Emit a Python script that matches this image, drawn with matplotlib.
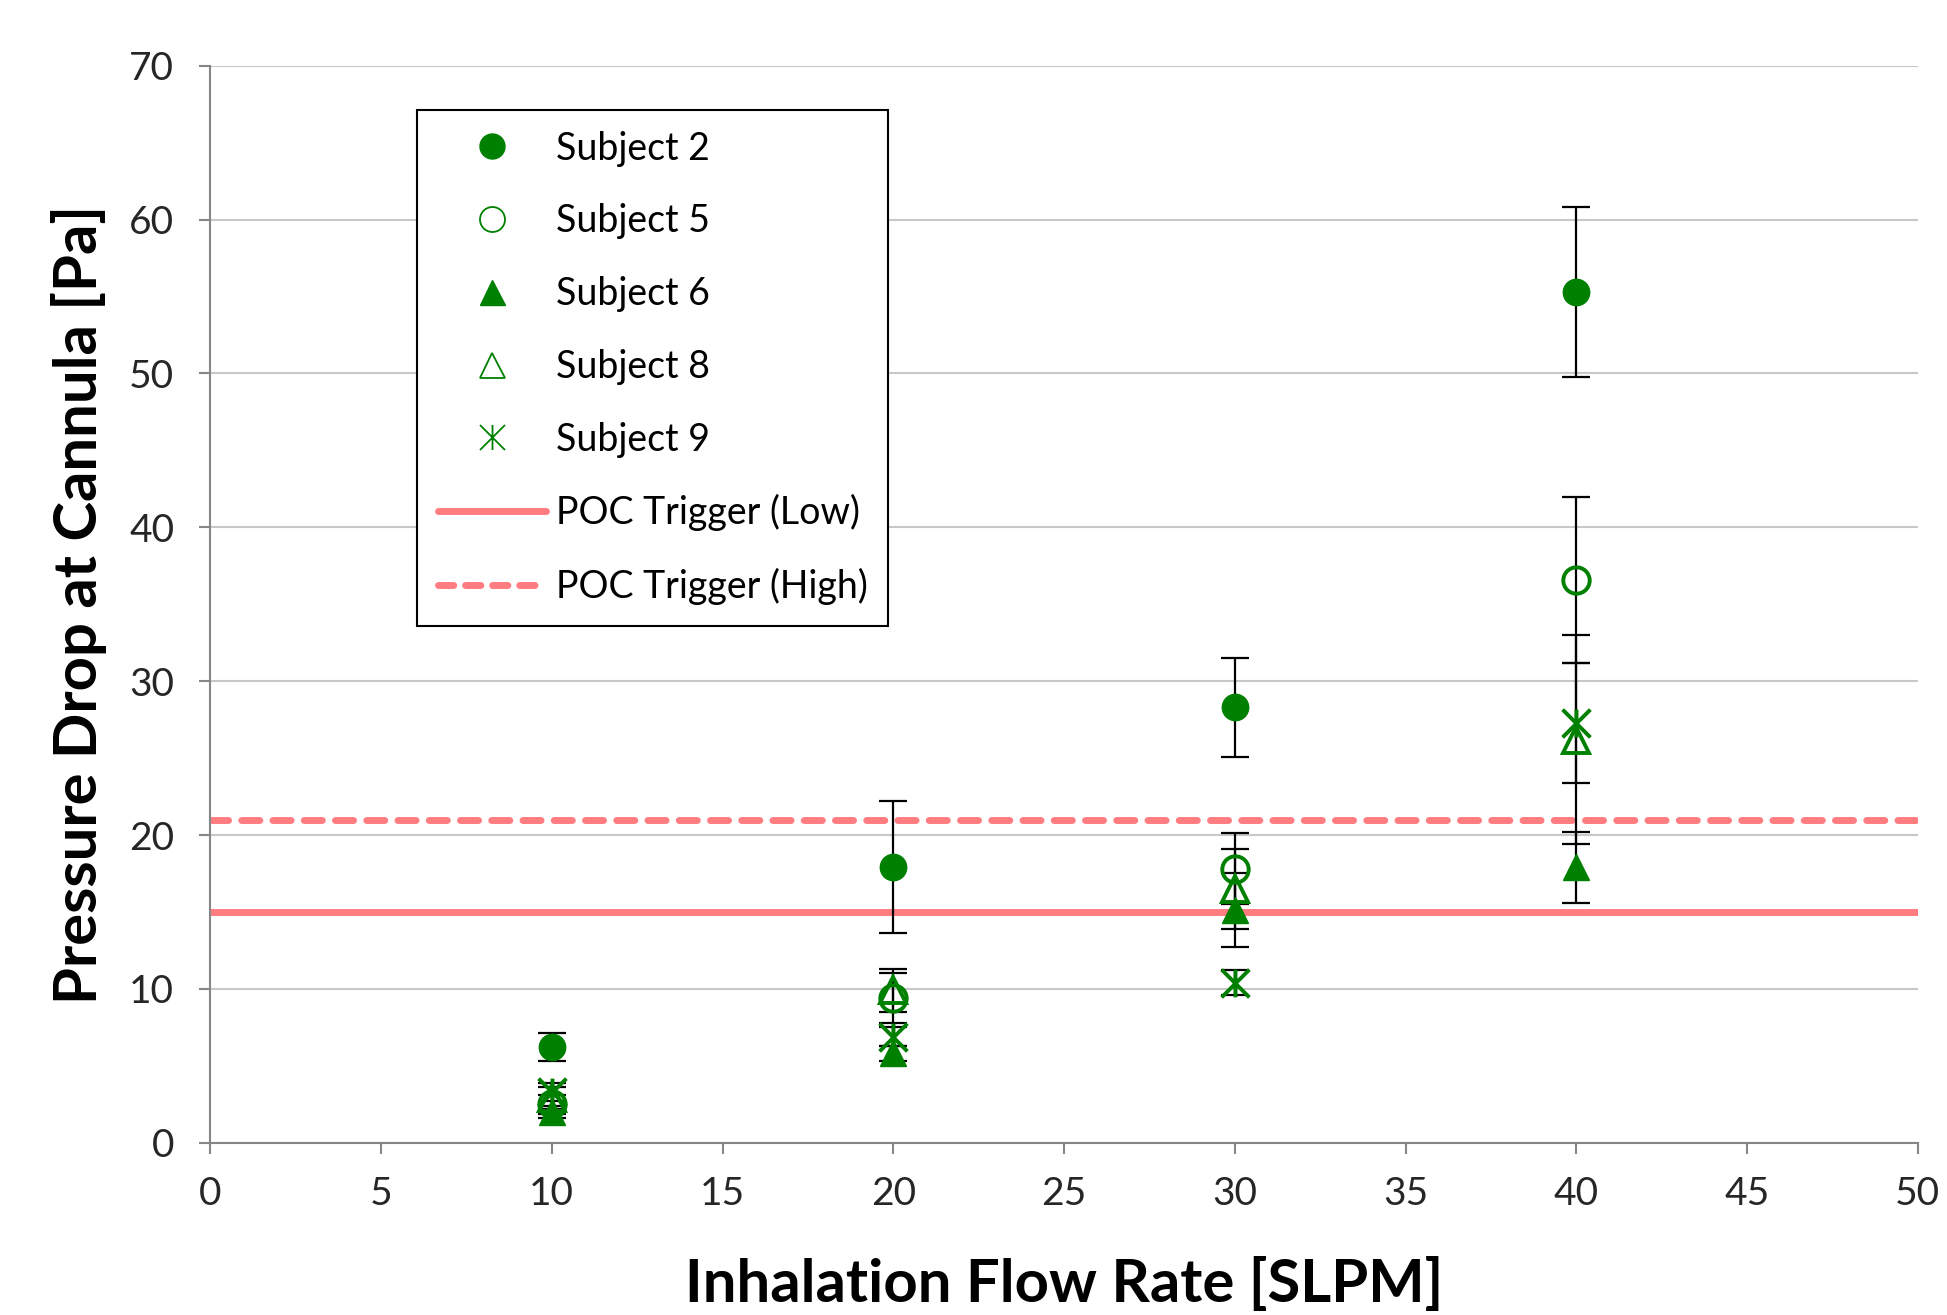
import numpy as np
import matplotlib
matplotlib.use("Agg")
import matplotlib.pyplot as plt
from matplotlib.lines import Line2D
from matplotlib.path import Path

plt.rcParams["font.family"] = ["Lato", "DejaVu Sans"]

# --- data
flow = [10, 20, 30, 40]

subjects = ["Subject 2", "Subject 5", "Subject 6", "Subject 8", "Subject 9"]
s2_mean = [6.2, 17.9, 28.3, 55.3]
s2_err  = [0.9, 4.3, 3.2, 5.5]
s5_mean = [2.5, 9.4, 17.8, 36.6]
s5_err  = [0.6, 1.6, 2.3, 5.4]
s6_mean = [2.0, 5.8, 15.1, 17.9]
s6_err  = [0.4, 0.5, 2.4, 2.3]
s8_mean = [2.9, 9.9, 16.5, 26.2]
s8_err  = [0.7, 1.4, 2.6, 6.8]
s9_mean = [3.3, 6.9, 10.4, 27.3]
s9_err  = [0.6, 0.6, 0.8, 3.9]

trigger_low = 15
trigger_high = 21

# --- styles
green = "#008000"
salmon = "#FF7C80"

# Excel-like star marker: an X with a vertical bar through it
star = Path([(0, -1), (0, 1), (-1, -1), (1, 1), (-1, 1), (1, -1)],
            [Path.MOVETO, Path.LINETO] * 3)

styles = [
    dict(marker="o", mfc=green, mec=green, ms=19, mew=1),
    dict(marker="o", mfc="none", mec=green, ms=19, mew=2.8),
    dict(marker="^", mfc=green, mec=green, ms=19, mew=1),
    dict(marker="^", mfc="none", mec=green, ms=19, mew=2.8),
    dict(marker=star, mfc="none", mec=green, ms=20, mew=2.8),
]
means = [s2_mean, s5_mean, s6_mean, s8_mean, s9_mean]
errs = [s2_err, s5_err, s6_err, s8_err, s9_err]

# --- plot
fig = plt.figure(figsize=(19.47, 13.15), dpi=100)
ax = fig.add_axes([0.108, 0.131, 0.877, 0.819])

ax.axhline(trigger_low, color=salmon, lw=5, zorder=2, solid_capstyle="butt")
ax.axhline(trigger_high, color=salmon, lw=5, ls=(0, (2.6, 1.9)),
           dash_capstyle="round", zorder=2)

for m, e in zip(means, errs):
    ax.errorbar(flow, m, yerr=e, fmt="none", ecolor="black", elinewidth=1.6,
                capsize=10, capthick=1.6, zorder=3)
for name, m, st in zip(subjects, means, styles):
    ax.plot(flow, m, ls="none", zorder=4, **st)

# --- legend
handles = []
for name, st in zip(subjects, styles):
    st_leg = dict(st)
    st_leg["mew"] = 1.3 if st["mfc"] == "none" else 1
    st_leg["ms"] = 18
    handles.append(Line2D([], [], ls="none", label=name, **st_leg))
handles.append(Line2D([], [], color=salmon, lw=5, solid_capstyle="round",
                      label="POC Trigger (Low)"))
handles.append(Line2D([], [], color=salmon, lw=5, ls=(0, (2.2, 1.7)),
                      dash_capstyle="round", label="POC Trigger (High)"))
leg = ax.legend(handles=handles, loc="upper left", bbox_to_anchor=(0.121, 0.959),
                borderaxespad=0, fontsize=27, labelspacing=0.98, handlelength=2.9,
                handletextpad=0.25, borderpad=0.55, fancybox=False, framealpha=1,
                edgecolor="black")
leg.get_frame().set_linewidth(1.5)

# --- axes
ax.set_xlim(0, 50)
ax.set_ylim(0, 70)
ax.set_xticks(np.arange(0, 51, 5))
ax.set_yticks(np.arange(0, 71, 10))
ax.yaxis.grid(True, color="#C8C8C8", lw=1.5)
ax.set_axisbelow(True)
for s in ["top", "right"]:
    ax.spines[s].set_visible(False)
for s in ["left", "bottom"]:
    ax.spines[s].set_color("#868686")
    ax.spines[s].set_linewidth(1.5)
ax.tick_params(axis="both", direction="out", length=8, width=1.5,
               color="#868686", labelsize=28, labelcolor="#262626")
ax.tick_params(axis="x", pad=16)
ax.tick_params(axis="y", pad=18)

ax.set_xlabel("Inhalation Flow Rate [SLPM]", fontsize=43, fontweight="bold",
              labelpad=32)
ax.set_ylabel("Pressure Drop at Cannula [Pa]", fontsize=43, fontweight="bold",
              labelpad=16)

fig.savefig("out.png", dpi=100)
